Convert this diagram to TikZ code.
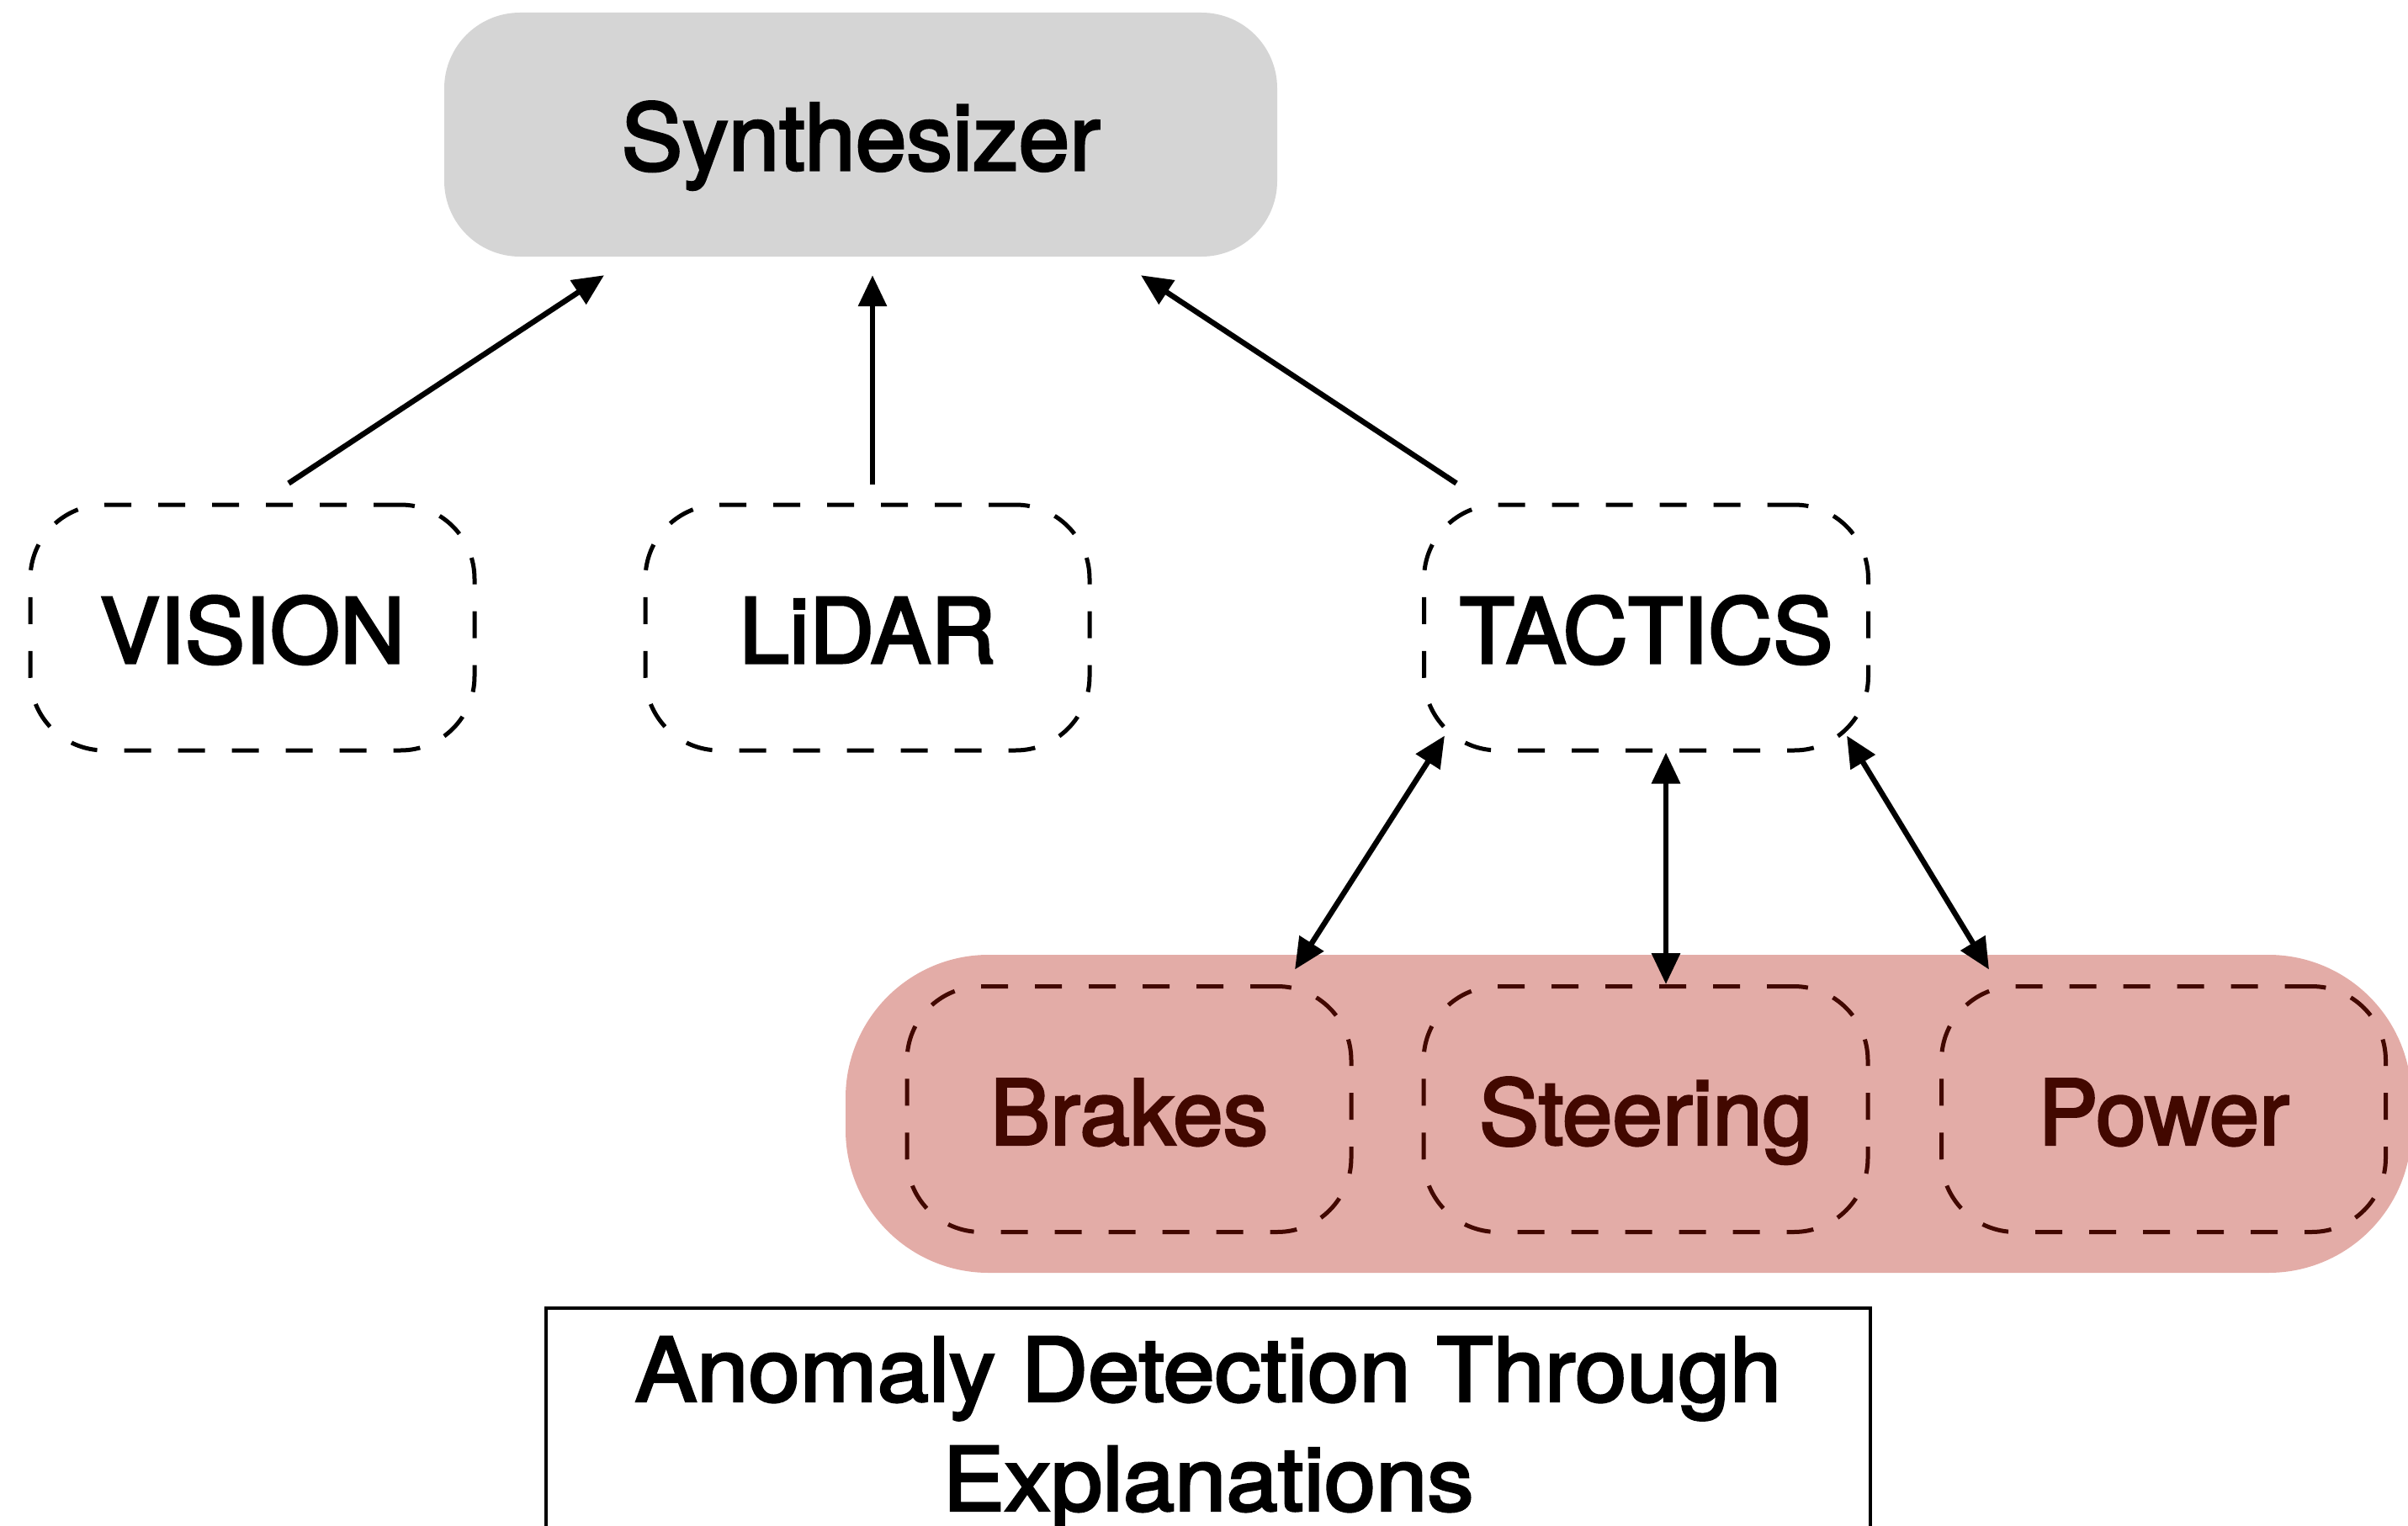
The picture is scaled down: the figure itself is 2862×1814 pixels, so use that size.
\documentclass[tikz,border=0pt]{standalone}
\usepackage{fontspec}
\setmainfont{TeX Gyre Heros}[FakeBold=2.8]
\newfontfamily\dgtitlefam{TeX Gyre Heros}[FakeBold=2.8,FakeStretch=1.05]
\usetikzlibrary{arrows.meta}
\definecolor{synthgray}{HTML}{D5D5D5}
\definecolor{pinkfill}{HTML}{E3ACA7}
\definecolor{darkred}{HTML}{420800}
\newcommand{\dgfont}{\fontsize{107}{128}\selectfont}
\newcommand{\dgtitlefont}{\dgtitlefam\fontsize{105}{130}\selectfont}
\begin{document}
\begin{tikzpicture}[x=1pt,y=-1pt,
  dbox/.style={draw, rounded corners=88pt, dash pattern=on 32pt off 32pt,
    line width=5pt, minimum width=528pt, minimum height=292pt, inner sep=0pt,
    text height=84pt, text depth=0pt, font=\dgfont},
  sbox/.style={fill=synthgray, rounded corners=90pt, minimum width=990pt,
    minimum height=290pt, inner sep=0pt, text height=84pt, text depth=0pt,
    font=\fontsize{109}{130}\selectfont},
  redbox/.style={dbox, draw=darkred, text=darkred},
  arr/.style={line width=6.5pt, -{Triangle[length=37pt,width=33pt]}},
  darr/.style={line width=6.5pt, {Triangle[length=37pt,width=33pt]}-{Triangle[length=37pt,width=33pt]}}
]
\useasboundingbox (0,0) rectangle (2862,1814);
\clip (0,0) rectangle (2862,1814);

% pink group
\fill[pinkfill, rounded corners=170pt] (1005,1135) rectangle (2866,1513);

% nodes
\node[sbox] (synth) at (1023,160) {Synthesizer};
\node[dbox] (vision) at (300,746) {VISION};
\node[dbox] (lidar) at (1031,746) {LiDAR};
\node[dbox] (tactics) at (1956.5,746) {TACTICS};
\node[redbox] (brakes) at (1342,1318.5) {Brakes};
\node[redbox] (steering) at (1956,1318.5) {Steering};
\node[redbox] (power) at (2571.5,1318.5) {Power};

% title box
\node[draw, line width=4pt, anchor=north, minimum width=1574pt, inner xsep=0pt,
  inner ysep=34pt, align=center, font=\dgtitlefont] (title) at (1436,1553)
  {Anomaly Detection Through\\Explanations};

% arrows to synthesizer
\draw[arr] ([shift={(43,-23)}]vision.north) -- ([shift={(-305,22)}]synth.south);
\draw[arr] ([shift={(6,-22)}]lidar.north) -- ([shift={(14,22)}]synth.south);
\draw[arr] ([shift={(-225.5,-23)}]tactics.north) -- ([shift={(333,22)}]synth.south);

% tactics <-> actuators
\draw[darr] ([shift={(-239.5,-20)}]tactics.south) -- ([shift={(197,-17.5)}]brakes.north);
\draw[darr] ([shift={(23.5,0)}]tactics.south) -- ([shift={(24,0)}]steering.north);
\draw[darr] ([shift={(238.5,-20)}]tactics.south) -- ([shift={(-207.5,-17.5)}]power.north);
\end{tikzpicture}
\end{document}
